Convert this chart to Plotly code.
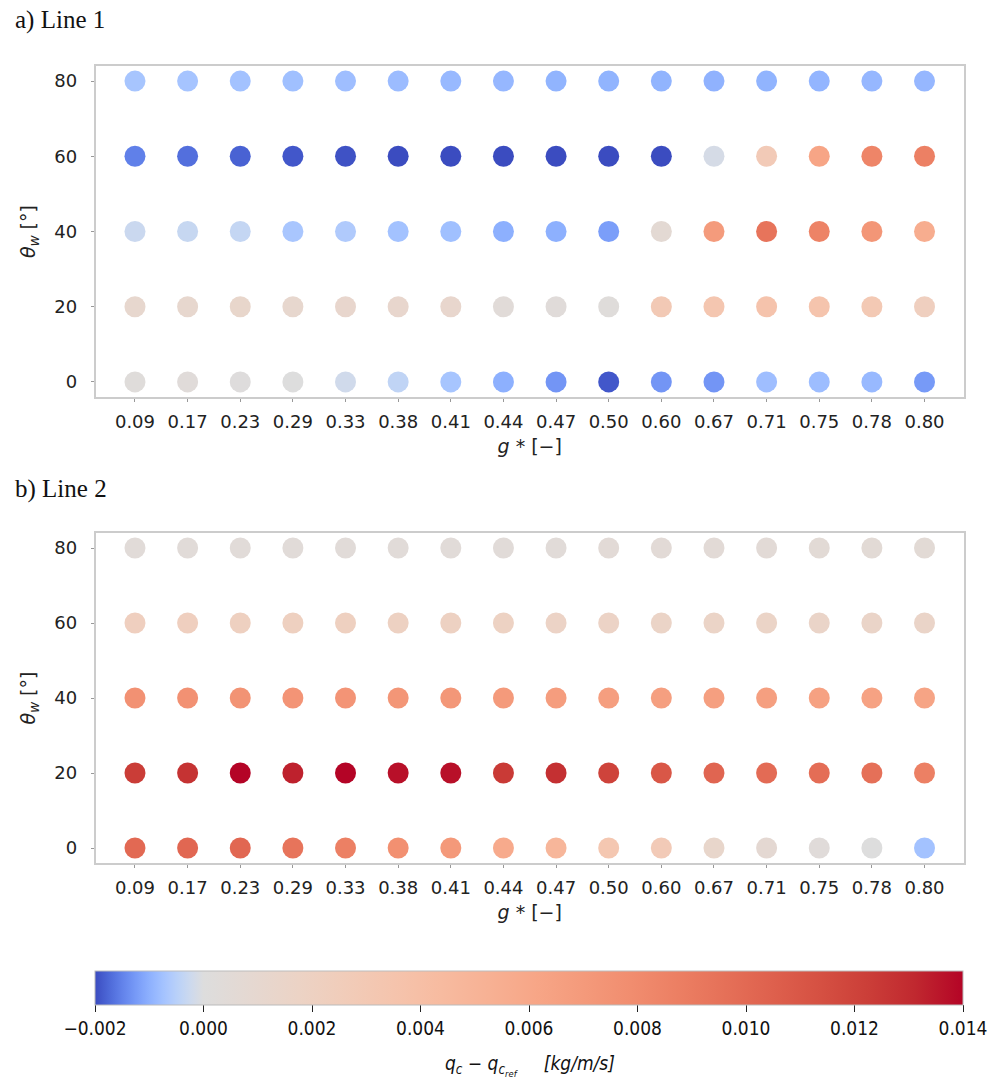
import plotly.graph_objects as go

# ---------------- data ----------------
g_labels = ["0.09", "0.17", "0.23", "0.29", "0.33", "0.38", "0.41", "0.44",
            "0.47", "0.50", "0.60", "0.67", "0.71", "0.75", "0.78", "0.80"]
theta_rows = [0, 20, 40, 60, 80]

# Line 1 : q_c - q_c_ref  [kg/m/s], one list per theta_w row
line1_theta0 = [0.0002, 0.0003, 0.0001, 0.0, -0.0002, -0.0004, -0.0007, -0.0010,
                -0.0013, -0.0019, -0.0013, -0.0013, -0.0008, -0.00082, -0.00088, -0.00125]
line1_theta20 = [0.0011, 0.0011, 0.0013, 0.0011, 0.0012, 0.0012, 0.0012, 0.0004,
                 0.0003, 0.0002, 0.0029, 0.0033, 0.0036, 0.0035, 0.0030, 0.0022]
line1_theta40 = [-0.00028, -0.00032, -0.00035, -0.00068, -0.0006, -0.00075, -0.00078, -0.0010,
                 -0.0010, -0.0012, 0.0007, 0.0069, 0.0094, 0.0085, 0.0073, 0.0056]
line1_theta60 = [-0.00152, -0.00168, -0.0018, -0.0019, -0.00195, -0.002, -0.002, -0.002,
                 -0.002, -0.002, -0.002, -0.00012, 0.0028, 0.0062, 0.0084, 0.0087]
line1_theta80 = [-0.0007, -0.00072, -0.00075, -0.00078, -0.0008, -0.00083, -0.00088, -0.0009,
                 -0.00095, -0.00095, -0.00095, -0.00097, -0.00095, -0.00093, -0.0009, -0.0009]

# Line 2
line2_theta0 = [0.0100, 0.0101, 0.0101, 0.0094, 0.0087, 0.0077, 0.0071, 0.0058,
                0.0048, 0.0032, 0.0028, 0.0013, 0.0008, 0.0003, 0.0, -0.00075]
line2_theta20 = [0.0123, 0.0127, 0.0140, 0.0133, 0.0140, 0.0137, 0.0137, 0.0124,
                 0.0128, 0.0120, 0.0110, 0.0102, 0.0099, 0.0098, 0.0096, 0.0087]
line2_theta40 = [0.0076, 0.0076, 0.0075, 0.0074, 0.0074, 0.0073, 0.0072, 0.0070,
                 0.0068, 0.0067, 0.0066, 0.0066, 0.0066, 0.0065, 0.0064, 0.0063]
line2_theta60 = [0.0022, 0.0022, 0.0021, 0.0021, 0.0021, 0.0020, 0.0020, 0.0019,
                 0.0017, 0.0017, 0.0016, 0.0016, 0.0016, 0.0015, 0.0015, 0.0015]
line2_theta80 = [0.0004, 0.0004, 0.0004, 0.0004, 0.0004, 0.0004, 0.0004, 0.0004,
                 0.0004, 0.0005, 0.0005, 0.0005, 0.0005, 0.0006, 0.0006, 0.0006]

cbar_ticks = [-0.002, 0.0, 0.002, 0.004, 0.006, 0.008, 0.010, 0.012, 0.014]
vmin, vcenter, vmax = -0.002, 0.0, 0.014

# matplotlib "coolwarm" anchor colours
coolwarm = [
    (0.0, (0.2298057, 0.298717966, 0.753683153)),
    (0.03125, (0.26623388, 0.353094838, 0.801466763)),
    (0.0625, (0.30386891, 0.406535296, 0.84495867)),
    (0.09375, (0.342804478, 0.458757618, 0.883725899)),
    (0.125, (0.38301334, 0.50941904, 0.917387822)),
    (0.15625, (0.424369608, 0.558148092, 0.945619588)),
    (0.1875, (0.46666708, 0.604562568, 0.968154911)),
    (0.21875, (0.509635204, 0.648280772, 0.98478814)),
    (0.25, (0.552953156, 0.688929332, 0.995375608)),
    (0.28125, (0.596262162, 0.726149107, 0.999836203)),
    (0.3125, (0.639176211, 0.759599947, 0.998151185)),
    (0.34375, (0.681291281, 0.788964712, 0.990363227)),
    (0.375, (0.722193294, 0.813952739, 0.976574709)),
    (0.40625, (0.761464949, 0.834302879, 0.956945269)),
    (0.4375, (0.798691636, 0.849786142, 0.931688648)),
    (0.46875, (0.833466556, 0.860207984, 0.901068838)),
    (0.5, (0.865395197, 0.86541021, 0.865395561)),
    (0.53125, (0.897787179, 0.848937047, 0.820880546)),
    (0.5625, (0.924127593, 0.827384882, 0.774508472)),
    (0.59375, (0.944468518, 0.800927443, 0.726736307)),
    (0.625, (0.958852946, 0.769767752, 0.678007945)),
    (0.65625, (0.96732803, 0.734132809, 0.628751763)),
    (0.6875, (0.969954137, 0.694266682, 0.579375448)),
    (0.71875, (0.966811177, 0.650421156, 0.530263762)),
    (0.75, (0.958003065, 0.602842431, 0.481775914)),
    (0.78125, (0.943660866, 0.551750968, 0.434243684)),
    (0.8125, (0.923944917, 0.497202903, 0.387970225)),
    (0.84375, (0.89904617, 0.439559467, 0.343229596)),
    (0.875, (0.869186849, 0.378313092, 0.300267182)),
    (0.90625, (0.834620542, 0.312874446, 0.259301199)),
    (0.9375, (0.795631745, 0.24128379, 0.220525627)),
    (0.96875, (0.752534934, 0.157246067, 0.184115123)),
    (1.0, (0.705673158, 0.01555616, 0.150232812)),
]

# two-slope normalisation (centre at 0) -> position in [vmin, vmax]
cpos = (vcenter - vmin) / (vmax - vmin)
colorscale = []
for t, (r, g, b) in coolwarm:
    if t <= 0.5:
        p = t / 0.5 * cpos
    else:
        p = cpos + (t - 0.5) / 0.5 * (1 - cpos)
    colorscale.append([p, "rgb(%d,%d,%d)" % (round(r * 255), round(g * 255), round(b * 255))])

line1 = [line1_theta0, line1_theta20, line1_theta40, line1_theta60, line1_theta80]
line2 = [line2_theta0, line2_theta20, line2_theta40, line2_theta60, line2_theta80]


def flatten(rows):
    xs, ys, cs = [], [], []
    for th, vals in zip(theta_rows, rows):
        for gl, v in zip(g_labels, vals):
            xs.append(gl)
            ys.append(th)
            cs.append(v)
    return xs, ys, cs


fig = go.Figure()
for rows, xa, ya in [(line1, "x", "y"), (line2, "x2", "y2")]:
    xs, ys, cs = flatten(rows)
    fig.add_trace(go.Scatter(
        x=xs, y=ys, mode="markers", xaxis=xa, yaxis=ya,
        marker=dict(size=21, color=cs, coloraxis="coloraxis", line=dict(width=0)),
        showlegend=False,
    ))

W, H = 1005, 1092
tickfont = dict(family="DejaVu Sans", size=18, color="#222222")
titlefont = dict(family="DejaVu Sans", size=19, color="#222222")
axis_common = dict(
    showgrid=False, zeroline=False, showline=True, mirror=True,
    linecolor="#cccccc", linewidth=1.5, ticks="outside", ticklen=3,
    tickcolor="#999999", tickfont=tickfont,
)
xdom = [95.5 / W, 964 / W]
xaxis_extra = dict(type="category", categoryorder="array", categoryarray=g_labels,
                   range=[-0.75, 15.75], ticklabelstandoff=5,
                   title=dict(text="<i>g</i> * [−]", font=titlefont, standoff=8))
yaxis_extra = dict(range=[-4, 84], tickvals=[0, 20, 40, 60, 80], ticklabelstandoff=10,
                   title=dict(text="<i>θ<sub>w</sub></i> [°]", font=titlefont, standoff=14))

cbfont = "Liberation Sans Narrow, DejaVu Sans Condensed, Liberation Sans"

fig.update_layout(
    width=W, height=H,
    margin=dict(l=0, r=0, t=0, b=0),
    paper_bgcolor="white", plot_bgcolor="white",
    xaxis=dict(domain=xdom, anchor="y", **xaxis_extra, **axis_common),
    yaxis=dict(domain=[1 - 397 / H, 1 - 66 / H], anchor="x", **yaxis_extra, **axis_common),
    xaxis2=dict(domain=xdom, anchor="y2", **xaxis_extra, **axis_common),
    yaxis2=dict(domain=[1 - 863 / H, 1 - 533 / H], anchor="x2", **yaxis_extra, **axis_common),
    coloraxis=dict(
        colorscale=colorscale, cmin=vmin, cmax=vmax,
        colorbar=dict(
            orientation="h", x=(95 + 963) / 2 / W, xanchor="center",
            y=1 - 971 / H, yanchor="top", len=868 / W, lenmode="fraction",
            thickness=34, xpad=0, ypad=0,
            outlinecolor="#bbbbbb", outlinewidth=1,
            tickvals=cbar_ticks, tickformat=".3f", ticks="outside", ticklen=7,
            tickcolor="#222222",
            tickfont=dict(family=cbfont, size=19, color="#111111"),
        ),
    ),
    annotations=[
        dict(text="a) Line 1", x=13 / W, y=1 - 4 / H, xref="paper", yref="paper",
             xanchor="left", yanchor="top", showarrow=False,
             font=dict(family="Liberation Serif", size=25, color="#111111")),
        dict(text="b) Line 2", x=13 / W, y=1 - 473 / H, xref="paper", yref="paper",
             xanchor="left", yanchor="top", showarrow=False,
             font=dict(family="Liberation Serif", size=25, color="#111111")),
        dict(text="<i>q<sub>c</sub> − q<sub>c<sub>ref</sub></sub>     [kg/m/s]</i>",
             x=530 / W, y=1 - 1065 / H, xref="paper", yref="paper",
             xanchor="center", yanchor="middle", showarrow=False,
             font=dict(family=cbfont, size=19, color="#111111")),
    ],
)

fig.write_html("out.html")
